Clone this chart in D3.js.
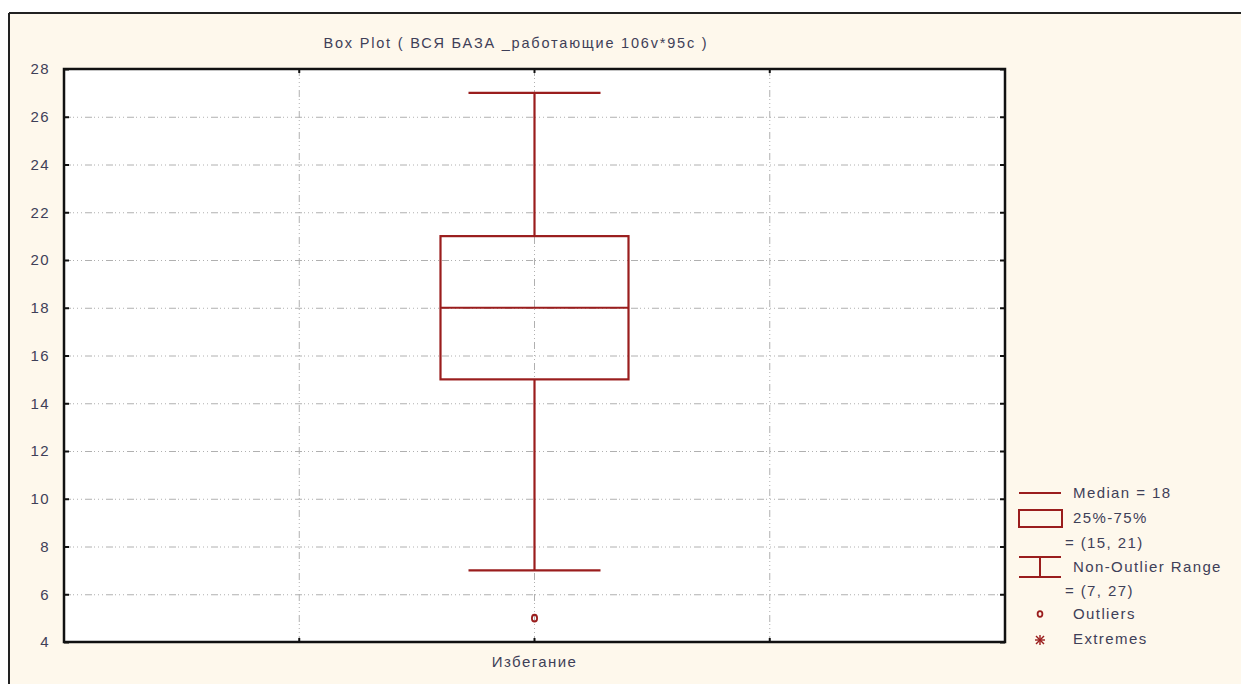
<!DOCTYPE html>
<html><head><meta charset="utf-8">
<script src="https://cdn.jsdelivr.net/npm/d3@7"></script>
<style>
body{margin:0;background:#fff;}
text{font-family:"Liberation Sans",Arial,sans-serif;}
</style></head>
<body>
<svg id="c" width="1241" height="684"></svg>
<script>
const title = "Box Plot ( ВСЯ БАЗА _работающие 106v*95c )";
const categories = ["Избегание"];
const medians = [18];
const q1s = [15];
const q3s = [21];
const whiskerLow = [7];
const whiskerHigh = [27];
const outliers = [[5]];
const yTicks = [4,6,8,10,12,14,16,18,20,22,24,26,28];
const legendItems = ["Median = 18","25%-75%","= (15, 21)","Non-Outlier Range","= (7, 27)","Outliers","Extremes"];

const svg = d3.select("#c");
const W=1241,H=684;
const red="#9a1d1d", txt="#3e4058", grid="#b0b0b0";
svg.append("rect").attr("width",W).attr("height",H).attr("fill","#fff");
svg.append("rect").attr("x",9).attr("y",13).attr("width",W-9).attr("height",H-13).attr("fill","#fef8ec");
svg.append("line").attr("x1",9).attr("x2",W).attr("y1",13).attr("y2",13).attr("stroke","#222").attr("stroke-width",2);
svg.append("line").attr("x1",9).attr("x2",9).attr("y1",13).attr("y2",H).attr("stroke","#222").attr("stroke-width",2);

const L=64,R=1005,T=69,B=642;
const y=d3.scaleLinear().domain([4,28]).range([B,T]);
const x=d3.scalePoint().domain(["_a",...categories,"_b"]).range([L,R]).padding(1);
svg.append("rect").attr("x",L).attr("y",T).attr("width",R-L).attr("height",B-T).attr("fill","#fff");

const dash="7,2,1,3,1,3,1,3";
// grid
svg.append("g").selectAll("line").data(yTicks.filter(d=>d>4&&d<28)).join("line")
 .attr("x1",L).attr("x2",R).attr("y1",d=>y(d)+0.5).attr("y2",d=>y(d)+0.5)
 .attr("stroke",grid).attr("stroke-dasharray",dash);
const vx=x.domain().map(d=>x(d));
svg.append("g").selectAll("line").data(vx).join("line")
 .attr("x1",d=>d).attr("x2",d=>d).attr("y1",T).attr("y2",B)
 .attr("stroke",grid).attr("stroke-dasharray",dash);

const fs="15px", ls_="1.4px";
// axes
const axL=d3.axisLeft(y).tickValues(yTicks).tickSize(-5).tickPadding(14);
const gL=svg.append("g").attr("transform",`translate(${L},0)`).call(axL);
gL.select(".domain").remove();
gL.selectAll("line").attr("stroke","#111").attr("stroke-width",2);
gL.selectAll("text").attr("fill",txt).style("font-size",fs).style("letter-spacing",ls_).attr("font-family","Liberation Sans, Arial");
const axR=d3.axisRight(y).tickValues(yTicks).tickSize(-5).tickFormat("");
const gR=svg.append("g").attr("transform",`translate(${R},0)`).call(axR);
gR.select(".domain").remove();
gR.selectAll("line").attr("stroke","#111").attr("stroke-width",2);
svg.append("g").selectAll("line").data(vx).join("line")
 .attr("x1",d=>d).attr("x2",d=>d).attr("y1",T).attr("y2",T+4).attr("stroke","#111").attr("stroke-width",2);
svg.append("g").selectAll("line").data(vx).join("line")
 .attr("x1",d=>d).attr("x2",d=>d).attr("y1",B).attr("y2",B-4).attr("stroke","#111").attr("stroke-width",2);
svg.append("rect").attr("x",L).attr("y",T).attr("width",R-L).attr("height",B-T)
 .attr("fill","none").attr("stroke","#111").attr("stroke-width",2.5);

// x label
svg.selectAll(".xl").data(categories).join("text").attr("class","xl")
 .attr("x",d=>x(d)).attr("y",667).attr("text-anchor","middle").attr("fill",txt)
 .style("font-size",fs).style("letter-spacing",ls_).text(d=>d);

// title
svg.append("text").attr("x",516).attr("y",48).attr("text-anchor","middle").attr("fill",txt)
 .style("font-size","14.5px").style("letter-spacing","1.8px").text(title);

// box
const boxW=188, capW=132;
categories.forEach((c,i)=>{
  const cx=x(c);
  const g=svg.append("g").attr("stroke",red).attr("stroke-width",2.2).attr("fill","none");
  g.append("line").attr("x1",cx).attr("x2",cx).attr("y1",y(whiskerHigh[i])).attr("y2",y(q3s[i]));
  g.append("line").attr("x1",cx).attr("x2",cx).attr("y1",y(q1s[i])).attr("y2",y(whiskerLow[i]));
  g.append("line").attr("x1",cx-capW/2).attr("x2",cx+capW/2).attr("y1",y(whiskerHigh[i])).attr("y2",y(whiskerHigh[i]));
  g.append("line").attr("x1",cx-capW/2).attr("x2",cx+capW/2).attr("y1",y(whiskerLow[i])).attr("y2",y(whiskerLow[i]));
  g.append("rect").attr("x",cx-boxW/2).attr("y",y(q3s[i])).attr("width",boxW).attr("height",y(q1s[i])-y(q3s[i]));
  g.append("line").attr("x1",cx-boxW/2).attr("x2",cx+boxW/2).attr("y1",y(medians[i])).attr("y2",y(medians[i]));
  outliers[i].forEach(o=>{
    g.append("ellipse").attr("cx",cx).attr("cy",y(o)).attr("rx",2.6).attr("ry",3.4).attr("stroke-width",1.8);
  });
});

// legend
const lx=1019, tx=1073;
const lg=svg.append("g");
const ls=lg.append("g").attr("stroke",red).attr("stroke-width",2).attr("fill","none");
ls.append("line").attr("x1",lx).attr("x2",lx+42).attr("y1",493).attr("y2",493);
ls.append("rect").attr("x",lx).attr("y",510).attr("width",43).attr("height",17);
ls.append("line").attr("x1",lx).attr("x2",lx+42).attr("y1",557).attr("y2",557);
ls.append("line").attr("x1",lx).attr("x2",lx+42).attr("y1",577).attr("y2",577);
ls.append("line").attr("x1",lx+21).attr("x2",lx+21).attr("y1",557).attr("y2",577);
ls.append("ellipse").attr("cx",lx+21).attr("cy",614).attr("rx",2.4).attr("ry",2.8).attr("stroke-width",1.8);
// extremes asterisk
const ex=lx+21, ey=640;
[[-5,0,5,0],[0,-5,0,5],[-4,-4,4,4],[-4,4,4,-4]].forEach(s=>
  ls.append("line").attr("x1",ex+s[0]).attr("y1",ey+s[1]).attr("x2",ex+s[2]).attr("y2",ey+s[3]).attr("stroke-width",1.4));
const legPos=[[tx,498],[tx,523],[1065,548],[tx,572],[1065,596],[tx,619],[tx,644]];
lg.selectAll("text").data(legendItems).join("text")
 .attr("x",(d,i)=>legPos[i][0]).attr("y",(d,i)=>legPos[i][1])
 .attr("fill",txt).style("font-size",fs).style("letter-spacing",ls_).text(d=>d);
</script>
</body></html>
